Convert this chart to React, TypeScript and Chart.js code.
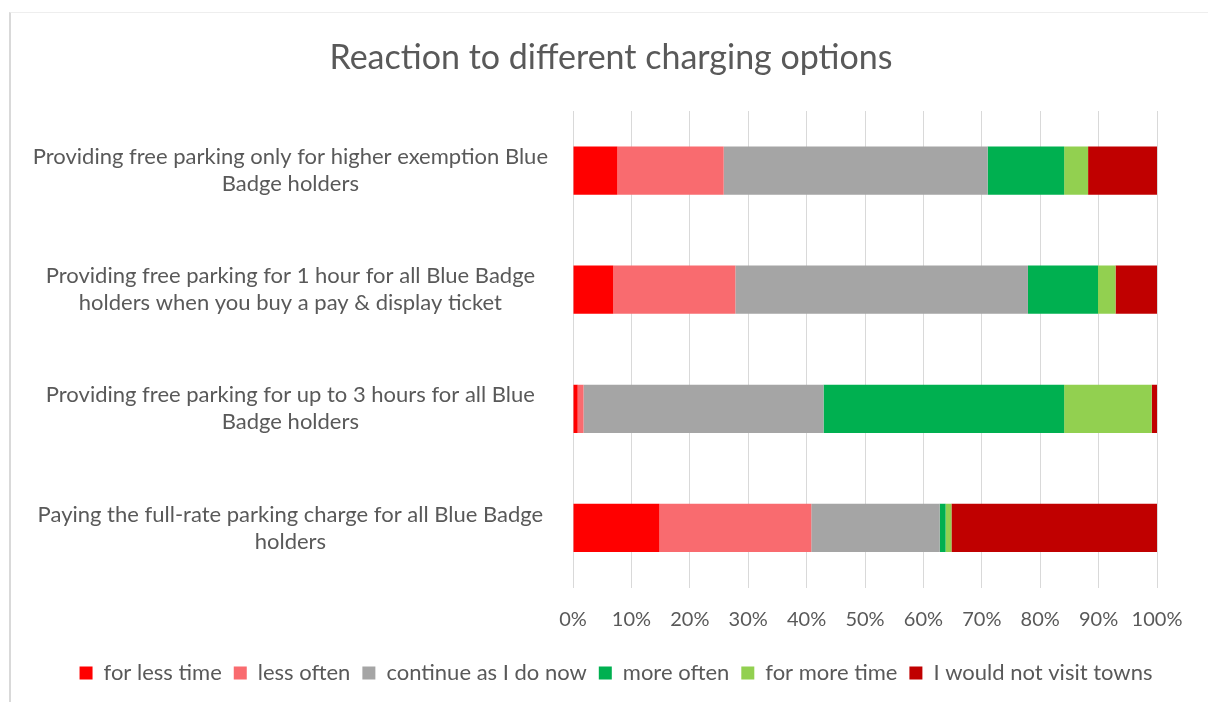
import React, { useEffect, useRef } from "react";
import { Chart, registerables } from "chart.js";

Chart.register(...registerables);

const chartTitle = "Reaction to different charging options";

const categories: string[][] = [
  ["Providing free parking only for higher exemption Blue", "Badge holders"],
  ["Providing free parking for 1 hour for all Blue Badge", "holders when you buy a pay & display ticket"],
  ["Providing free parking for up to 3 hours for all Blue", "Badge holders"],
  ["Paying the full-rate parking charge for all Blue Badge", "holders"],
];

const seriesNames = [
  "for less time",
  "less often",
  "continue as I do now",
  "more often",
  "for more time",
  "I would not visit towns",
];

const forLessTime = [7.6, 6.9, 0.8, 14.8];
const lessOften = [18.2, 20.9, 1.0, 26.0];
const continueAsNow = [45.2, 50.1, 41.1, 22.0];
const moreOften = [13.1, 12.0, 41.2, 1.0];
const forMoreTime = [4.1, 3.0, 15.0, 1.0];
const notVisit = [11.8, 7.1, 0.9, 35.2];

const seriesColors = ["#FF0000", "#F96B6F", "#A5A5A5", "#00B050", "#92D050", "#C00000"];

const xTicks = [0, 10, 20, 30, 40, 50, 60, 70, 80, 90, 100];

const FONT = "Lato";
const TEXT = "#595959";
const TITLE_CENTER = 611;
const LEGEND_CENTER = 616;

const centerPlugin = {
  id: "centerBlocks",
  afterLayout(chart: any) {
    const t = chart.titleBlock;
    if (t) {
      const dx = TITLE_CENTER - (t.left + t.right) / 2;
      t.left += dx;
      t.right += dx;
    }
    const l = chart.legend;
    if (l) {
      const dx = LEGEND_CENTER - (l.left + l.right) / 2;
      l.left += dx;
      l.right += dx;
    }
  },
};

export default function App() {
  const ref = useRef<HTMLCanvasElement | null>(null);

  useEffect(() => {
    if (!ref.current) return;
    const seriesData = [forLessTime, lessOften, continueAsNow, moreOften, forMoreTime, notVisit];
    const chart = new Chart(ref.current, {
      type: "bar",
      plugins: [centerPlugin],
      data: {
        labels: categories,
        datasets: seriesNames.map((name, i) => ({
          label: name,
          data: seriesData[i],
          backgroundColor: seriesColors[i],
          borderWidth: 0,
          categoryPercentage: 1,
          barPercentage: 0.405,
        })),
      },
      options: {
        indexAxis: "y",
        animation: false,
        responsive: true,
        maintainAspectRatio: false,
        layout: { padding: { top: 24, left: 20, right: 51, bottom: 8 } },
        plugins: {
          title: {
            display: true,
            text: chartTitle,
            color: TEXT,
            font: { family: FONT, size: 34, weight: "normal", lineHeight: 1.2 },
            padding: { top: 13.6, bottom: 32.6 },
          },
          legend: {
            position: "bottom",
            labels: {
              color: TEXT,
              font: { family: FONT, size: 22 },
              boxWidth: 13,
              boxHeight: 13,
              padding: 12,
            },
          },
          tooltip: { enabled: false },
        },
        scales: {
          x: {
            stacked: true,
            min: 0,
            max: 100,
            afterBuildTicks: (scale: any) => {
              scale.ticks = xTicks.map((v) => ({ value: v }));
            },
            afterFit: (scale: any) => {
              scale.height = 62.5;
            },
            ticks: {
              color: TEXT,
              font: { family: FONT, size: 20, lineHeight: 1.2 },
              padding: 20.5,
              maxRotation: 0,
              callback: (v: any) => v + "%",
            },
            grid: { color: "#D9D9D9", lineWidth: 1, drawTicks: false },
            border: { display: false },
          },
          y: {
            stacked: true,
            afterFit: (scale: any) => {
              scale.width = 553;
            },
            ticks: {
              color: TEXT,
              font: { family: FONT, size: 22, lineHeight: 1.23 },
              padding: 25,
              crossAlign: "center",
            },
            grid: { display: false, drawTicks: false },
            border: { display: false },
          },
        },
      },
    });
    return () => chart.destroy();
  }, []);

  return (
    <>
      <div
        style={{
          position: "fixed",
          left: 9,
          top: 12,
          width: 1300,
          height: 800,
          borderLeft: "2px solid #D9D9D9",
          borderTop: "1px solid #EEEEEE",
          boxSizing: "border-box",
        }}
      />
      <div style={{ position: "fixed", left: 0, top: 0, width: 1208, height: 702 }}>
        <canvas ref={ref} />
      </div>
    </>
  );
}
